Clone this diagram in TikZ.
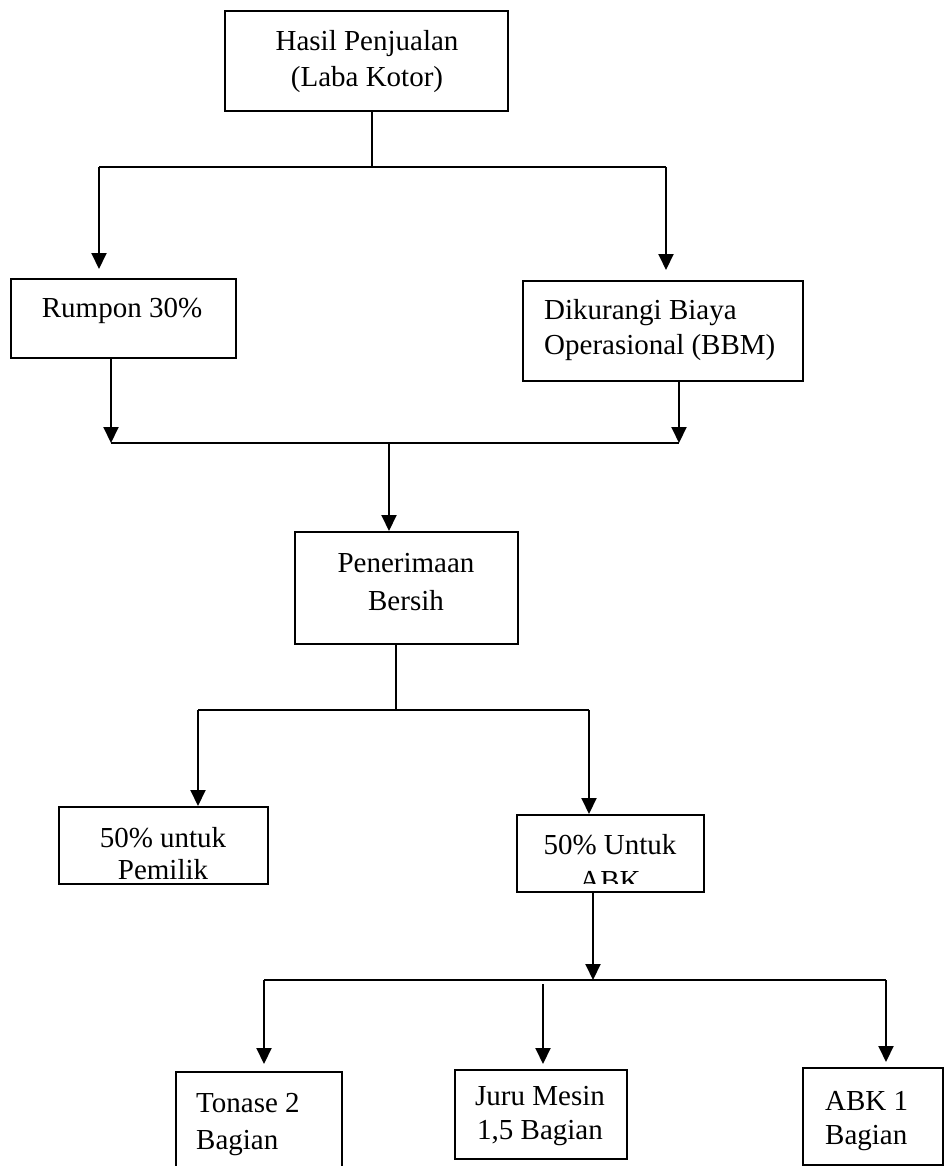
\documentclass[tikz,border=0pt]{standalone}
\usepackage{fontspec}
\setmainfont{Liberation Serif}
\usetikzlibrary{arrows.meta}
\begin{document}
\begin{tikzpicture}[x=1pt,y=-1pt,
  box/.style={draw, line width=2pt, rectangle, inner sep=0pt},
  txt/.style={inner sep=0pt, font=\fontsize{29}{36}\selectfont},
  ln/.style={line width=2pt},
  arr/.style={line width=2pt, -{Triangle[length=16pt,width=15pt]}}]
\useasboundingbox (0,0) rectangle (945,1166);

% boxes
\node[box, minimum width=283pt, minimum height=100pt] (top) at (366.5,61) {};
\node[box, minimum width=225pt, minimum height=79pt] (rump) at (123.5,318.5) {};
\node[box, minimum width=280pt, minimum height=100pt] (diku) at (663,331) {};
\node[box, minimum width=223pt, minimum height=112pt] (pen) at (406.5,588) {};
\node[box, minimum width=209pt, minimum height=77pt] (pem) at (163.5,845.5) {};
\node[box, minimum width=187pt, minimum height=77pt] (abk) at (610.5,853.5) {};
\node[box, minimum width=166pt, minimum height=108pt] (ton) at (259,1126) {};
\node[box, minimum width=172pt, minimum height=89pt] (juru) at (541,1114.5) {};
\node[box, minimum width=140pt, minimum height=97pt] (abka) at (873,1116.5) {};

% texts
\node[txt, align=center] (top-t) at (367,62) {Hasil Penjualan\\(Laba Kotor)};
\node[txt] (rump-t) at (122,311) {Rumpon 30\%};
\node[txt, align=left, anchor=west, font=\fontsize{29}{35}\selectfont] (diku-t) at (544,330.5) {Dikurangi Biaya\\Operasional (BBM)};
\node[txt, align=center, font=\fontsize{29}{38}\selectfont] (pen-t) at (406,582) {Penerimaan\\Bersih};
\node[txt, align=center, font=\fontsize{29}{32}\selectfont] (pem-t) at (163,853.5) {50\% untuk\\Pemilik};
\begin{scope}
  \clip (517,815) rectangle (704,883);
  \node[txt, align=center, font=\fontsize{29}{36}\selectfont] (abk-t) at (610,862) {50\% Untuk\\ABK};
\end{scope}
\node[txt, align=left, anchor=west, font=\fontsize{29}{37}\selectfont] (ton-t) at (196,1124.5) {Tonase 2\\Bagian};
\node[txt, align=center, font=\fontsize{29}{34}\selectfont] (juru-t) at (540,1116) {Juru Mesin\\1,5 Bagian};
\node[txt, align=left, anchor=west, font=\fontsize{29}{34}\selectfont] (abka-t) at (825,1121) {ABK 1\\Bagian};

% junction coordinates
\coordinate (j1) at (372,167);
\coordinate (hL) at (99,167);
\coordinate (hR) at (666,167);
\coordinate (c2L) at (111,443);
\coordinate (c2R) at (679,443);
\coordinate (c2M) at (389,443);
\coordinate (c3M) at (396,710);
\coordinate (c3L) at (198,710);
\coordinate (c3R) at (589,710);
\coordinate (c4M) at (593,980);
\coordinate (c4L) at (264,980);
\coordinate (c4R) at (886,980);
\coordinate (c4J) at (543,984);

% connectors
\draw[ln] (top.south -| j1) -- (j1);
\draw[ln] (hL) -- (hR);
\draw[arr, shorten >=9pt] (hL) -- (rump.north -| hL);
\draw[arr, shorten >=10pt] (hR) -- (diku.north -| hR);
\draw[arr] (rump.south -| c2L) -- (c2L);
\draw[arr] (diku.south -| c2R) -- (c2R);
\draw[ln] (c2L) -- (c2R);
\draw[arr] (c2M) -- (pen.north -| c2M);
\draw[ln] (pen.south -| c3M) -- (c3M);
\draw[ln] (c3L) -- (c3R);
\draw[arr] (c3L) -- (pem.north -| c3L);
\draw[arr] (c3R) -- (abk.north -| c3R);
\draw[arr] (abk.south -| c4M) -- (c4M);
\draw[ln] (c4L) -- (c4R);
\draw[arr, shorten >=7pt] (c4L) -- (ton.north -| c4L);
\draw[arr, shorten >=5pt] (c4J) -- (juru.north -| c4J);
\draw[arr, shorten >=5pt] (c4R) -- (abka.north -| c4R);
\end{tikzpicture}
\end{document}
